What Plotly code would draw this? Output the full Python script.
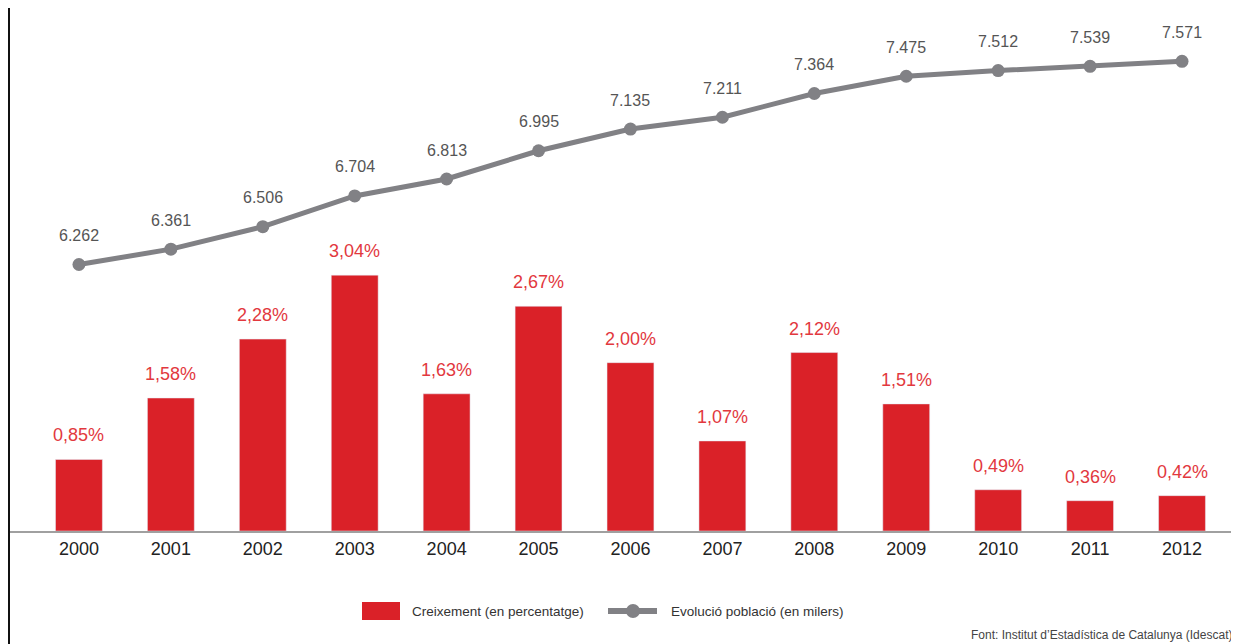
import plotly.graph_objects as go

years = ["2000", "2001", "2002", "2003", "2004", "2005", "2006",
         "2007", "2008", "2009", "2010", "2011", "2012"]
growth_pct = [0.85, 1.58, 2.28, 3.04, 1.63, 2.67, 2.00, 1.07, 2.12, 1.51, 0.49, 0.36, 0.42]
population_k = [6262, 6361, 6506, 6704, 6813, 6995, 7135, 7211, 7364, 7475, 7512, 7539, 7571]

legend_labels = ["Creixement (en percentatge)", "Evolució població (en milers)"]
source_text = "Font: Institut d\u2019Estadística de Catalunya (Idescat)"

RED = "#da2128"
RED_TXT = "#e2383e"
GRAY = "#818185"
FONT = "Liberation Sans, Arial, sans-serif"

# page body has an 8px margin -> figure drawn at (8, 8)
OFF = 8
W, H = 1239 - OFF, 644 - OFF
ML, MR, MT, MB = 10 - OFF, 0, 10 - OFF, 113
PW = W - ML - MR
PH = H - MT - MB


def px(x):
    return (x - OFF - ML) / PW


def py(y):
    return (H - MB - (y - OFF)) / PH


fig = go.Figure()
fig.add_trace(go.Bar(x=years, y=growth_pct, marker_color=RED, width=0.51,
                     name=legend_labels[0], hoverinfo="x+y"))
fig.add_trace(go.Scatter(x=years, y=population_k, yaxis="y2", mode="lines+markers",
                         line=dict(color=GRAY, width=5),
                         marker=dict(color=GRAY, size=13),
                         name=legend_labels[1]))

annotations = []
for i, v in enumerate(growth_pct):
    annotations.append(dict(x=i, y=v, xref="x", yref="y", yshift=24,
                            text=f"{v:.2f}".replace(".", ",") + "%",
                            showarrow=False, font=dict(family=FONT, size=18, color=RED_TXT)))
for i, v in enumerate(population_k):
    annotations.append(dict(x=i, y=v, xref="x", yref="y2", yshift=29,
                            text=f"{v/1000:.3f}",
                            showarrow=False, font=dict(family=FONT, size=16, color="#555555")))

# custom legend
annotations.append(dict(x=px(410), y=py(611), xref="paper", yref="paper", xanchor="left",
                        yanchor="middle", text=legend_labels[0], showarrow=False,
                        font=dict(family=FONT, size=13.5, color="#333333")))
annotations.append(dict(x=px(669), y=py(611), xref="paper", yref="paper", xanchor="left",
                        yanchor="middle", text=legend_labels[1], showarrow=False,
                        font=dict(family=FONT, size=13.5, color="#333333")))
annotations.append(dict(x=px(1234), y=py(635), xref="paper", yref="paper", xanchor="right",
                        yanchor="middle", text=source_text, showarrow=False,
                        font=dict(family=FONT, size=12, color="#444444")))

shapes = [
    dict(type="line", xref="paper", yref="paper", x0=px(8.5), x1=px(8.5), y0=py(0), y1=py(644),
         line=dict(color="#111111", width=3)),
    dict(type="rect", xref="paper", yref="paper", x0=px(362), x1=px(400), y0=py(602), y1=py(620),
         fillcolor=RED, line=dict(width=0)),
    dict(type="line", xref="paper", yref="paper", x0=px(608), x1=px(657), y0=py(611), y1=py(611),
         line=dict(color=GRAY, width=6)),
    dict(type="circle", xref="paper", yref="paper", x0=px(626), x1=px(640), y0=py(604), y1=py(618),
         fillcolor=GRAY, line=dict(width=0)),
]

fig.update_layout(
    width=W, height=H,
    margin=dict(l=ML, r=MR, t=MT, b=MB),
    paper_bgcolor="white", plot_bgcolor="white",
    showlegend=False,
    bargap=0.49,
    font=dict(family=FONT),
    xaxis=dict(type="category", range=[-0.75, 12.62], showline=True, linecolor="#a0a0a0",
               linewidth=2, ticks="", showgrid=False, zeroline=False,
               tickfont=dict(family=FONT, size=18, color="#222222")),
    yaxis=dict(range=[0, 6.19], visible=False, showgrid=False, zeroline=False),
    yaxis2=dict(range=[4545, 7902], overlaying="y", visible=False, showgrid=False, zeroline=False),
    annotations=annotations,
    shapes=shapes,
)

fig.write_html("out.html")
